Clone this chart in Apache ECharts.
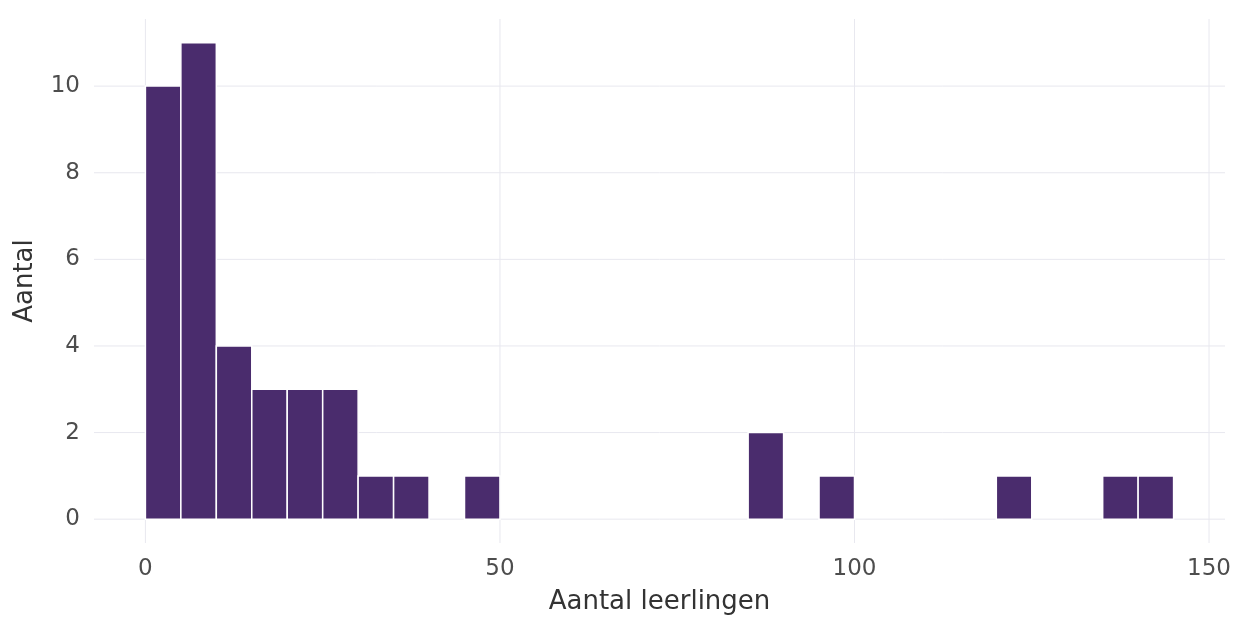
<!DOCTYPE html>
<html><head><meta charset="utf-8">
<script src="https://cdn.jsdelivr.net/npm/echarts@6/dist/echarts.min.js"></script>
<style>html,body{margin:0;padding:0;background:#fff}#c{width:1237px;height:617px}</style>
</head><body><div id="c"></div>
<script>
const binStarts = [0, 5, 10, 15, 20, 25, 30, 35, 45, 85, 95, 120, 135, 140];
const binWidth = 5;
const counts = [10, 11, 4, 3, 3, 3, 1, 1, 1, 2, 1, 1, 1, 1];
const xTicks = [0, 50, 100, 150];
const yTicks = [0, 2, 4, 6, 8, 10];

const data = binStarts.map((s, i) => [s, s + binWidth, counts[i]]);
const chart = echarts.init(document.getElementById('c'));
const font = 'DejaVu Sans';
chart.setOption({
  animation: false,
  backgroundColor: '#fff',
  grid: { left: 94, right: 12, top: 19, bottom: 74, outerBoundsMode: 'none', containLabel: false },
  xAxis: {
    type: 'value', min: -7.25, max: 152.25, interval: 50,
    name: 'Aantal leerlingen', nameLocation: 'middle', nameGap: 46,
    nameTextStyle: { fontFamily: font, fontSize: 26, color: '#333' },
    axisLine: { show: false }, axisTick: { show: false },
    axisLabel: { fontFamily: font, fontSize: 23, color: '#4d4d4d', margin: 15,
      customValues: xTicks },
    splitLine: { show: false }
  },
  yAxis: {
    type: 'value', min: -0.55, max: 11.55,
    name: 'Aantal', nameLocation: 'middle', nameGap: 56,
    nameTextStyle: { fontFamily: font, fontSize: 26, color: '#333' },
    axisLine: { show: false }, axisTick: { show: false },
    axisLabel: { fontFamily: font, fontSize: 23, color: '#4d4d4d', margin: 14,
      customValues: yTicks },
    splitLine: { show: false }
  },
  series: [
    {
      type: 'custom', silent: true, z: 1,
      renderItem: function (params, api) {
        const cs = params.coordSys;
        const children = [];
        xTicks.forEach(v => {
          const p = api.coord([v, 0]);
          children.push({ type: 'line', shape: { x1: p[0], y1: cs.y, x2: p[0], y2: cs.y + cs.height },
            style: { stroke: '#e8e8ef', lineWidth: 1 } });
        });
        yTicks.forEach(v => {
          const p = api.coord([0, v]);
          children.push({ type: 'line', shape: { x1: cs.x, y1: p[1], x2: cs.x + cs.width, y2: p[1] },
            style: { stroke: '#e8e8ef', lineWidth: 1 } });
        });
        return params.dataIndex === 0 ? { type: 'group', children } : null;
      },
      data: [[0, 0]]
    },
    {
      type: 'custom', z: 2,
      renderItem: function (params, api) {
        const p0 = api.coord([api.value(0), 0]);
        const p1 = api.coord([api.value(1), api.value(2)]);
        return { type: 'rect',
          shape: { x: p0[0], y: p1[1], width: p1[0] - p0[0], height: p0[1] - p1[1] },
          style: { fill: '#4a2c6d', stroke: '#ffffff', lineWidth: 1.5 } };
      },
      encode: { x: [0, 1], y: 2 },
      data: data
    }
  ]
});
</script></body></html>
